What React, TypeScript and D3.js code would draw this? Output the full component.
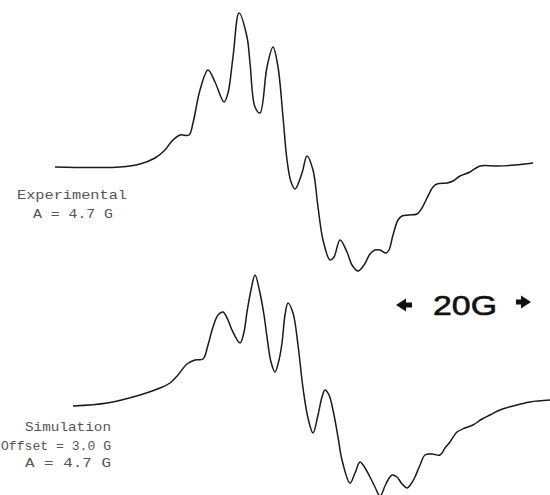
import React from "react";
import * as d3 from "d3";

// Field positions (arbitrary field units) and signal intensities
const expField = [55, 90, 120, 140, 155, 165, 172, 180, 189, 193, 200, 208, 215, 224, 228, 233, 239, 247, 250, 255, 260, 267, 273, 278, 283, 287, 291, 295, 302, 307, 313, 318, 323, 330, 334, 340, 347, 352, 358, 364, 370, 375, 380, 386, 389, 393, 398, 402, 409, 417, 422, 427, 433, 437, 447, 453, 460, 470, 480, 497, 515, 533];
const expSignalY = [167, 167.5, 167, 164, 158, 150, 141, 135, 135, 123, 90, 70, 82, 102, 93, 57, 13, 37, 63, 107, 113, 67, 47, 67, 117, 160, 182, 189, 173, 156, 170, 207, 240, 260, 257, 240, 252, 265, 271, 265, 254, 250, 250, 253, 250, 235, 220, 216, 215, 214, 208, 198, 187, 184, 183, 181, 176, 172, 166, 166, 165, 163];

const simField = [73, 107, 140, 160, 170, 178, 187, 195, 203, 208, 213, 218, 223, 228, 232, 240, 244, 247, 251, 255, 260, 264, 267, 271, 275, 279, 282, 285, 288, 293, 298, 303, 308, 313, 318, 322, 325, 329, 333, 338, 342, 350, 355, 360, 365, 370, 375, 380, 385, 388, 392, 397, 402, 407, 411, 415, 420, 425, 432, 440, 445, 450, 457, 465, 473, 482, 490, 500, 513, 530, 552];
const simSignalY = [406, 403, 395, 388, 383, 375, 364, 360, 359, 345, 327, 315, 312, 320, 330, 343, 332, 312, 290, 275, 293, 315, 337, 362, 372, 360, 343, 315, 303, 313, 345, 388, 418, 433, 415, 397, 390, 395, 410, 437, 460, 483, 473, 462, 468, 477, 487, 496, 486, 480, 475, 477, 484, 488, 484, 477, 465, 455, 454, 455, 448, 442, 432, 428, 425, 419, 415, 410, 406, 402, 400];

const expLabels = ["Experimental", "A = 4.7 G"];
const simLabels = ["Simulation", "Offset = 3.0 G", "A = 4.7 G"];
const scaleLabel = "20G";

export default function App() {
  const W = 550, H = 495;
  const x = d3.scaleLinear().domain([0, 550]).range([0, W]);
  const y = d3.scaleLinear().domain([0, 495]).range([0, H]);

  const line = d3
    .line<[number, number]>()
    .x((d) => x(d[0]))
    .y((d) => y(d[1]))
    .curve(d3.curveCatmullRom.alpha(0.5));

  const expPts = expField.map((f, i) => [f, expSignalY[i]] as [number, number]);
  const simPts = simField.map((f, i) => [f, simSignalY[i]] as [number, number]);

  const mono = "'Liberation Mono', 'DejaVu Sans Mono', monospace";

  return (
    <svg
      width={W}
      height={H}
      style={{ position: "absolute", left: 0, top: 0, background: "#fff" }}
    >
      <rect x={0} y={0} width={W} height={H} fill="#fff" />
      <path d={line(expPts) || ""} fill="none" stroke="#1a1a1a" strokeWidth={1.5} />
      <path d={line(simPts) || ""} fill="none" stroke="#1a1a1a" strokeWidth={1.5} />

      <g fill="#555" fontFamily={mono} fontSize={13}>
        <text x={17} y={199} textLength={110} lengthAdjust="spacingAndGlyphs">{expLabels[0]}</text>
        <text x={33} y={218} textLength={80} lengthAdjust="spacingAndGlyphs">{expLabels[1]}</text>
        <text x={25} y={431} textLength={86} lengthAdjust="spacingAndGlyphs">{simLabels[0]}</text>
        <text x={1} y={450} textLength={110} lengthAdjust="spacingAndGlyphs">{simLabels[1]}</text>
        <text x={25} y={467} textLength={86} lengthAdjust="spacingAndGlyphs">{simLabels[2]}</text>
      </g>

      <text
        x={433}
        y={315}
        fontFamily="'Liberation Sans', Arial, sans-serif"
        fontSize={28}
        fill="#111"
        stroke="#111"
        strokeWidth={0.6}
        textLength={64}
        lengthAdjust="spacingAndGlyphs"
      >
        {scaleLabel}
      </text>
      {/* left arrow */}
      <path d="M396,305 L406,298.5 L406,302.5 L412,302.5 L412,307.5 L406,307.5 L406,311.5 Z" fill="#111" />
      {/* right arrow */}
      <path d="M531,302 L521,295.5 L521,299.5 L516,299.5 L516,304.5 L521,304.5 L521,308.5 Z" fill="#111" />
    </svg>
  );
}
